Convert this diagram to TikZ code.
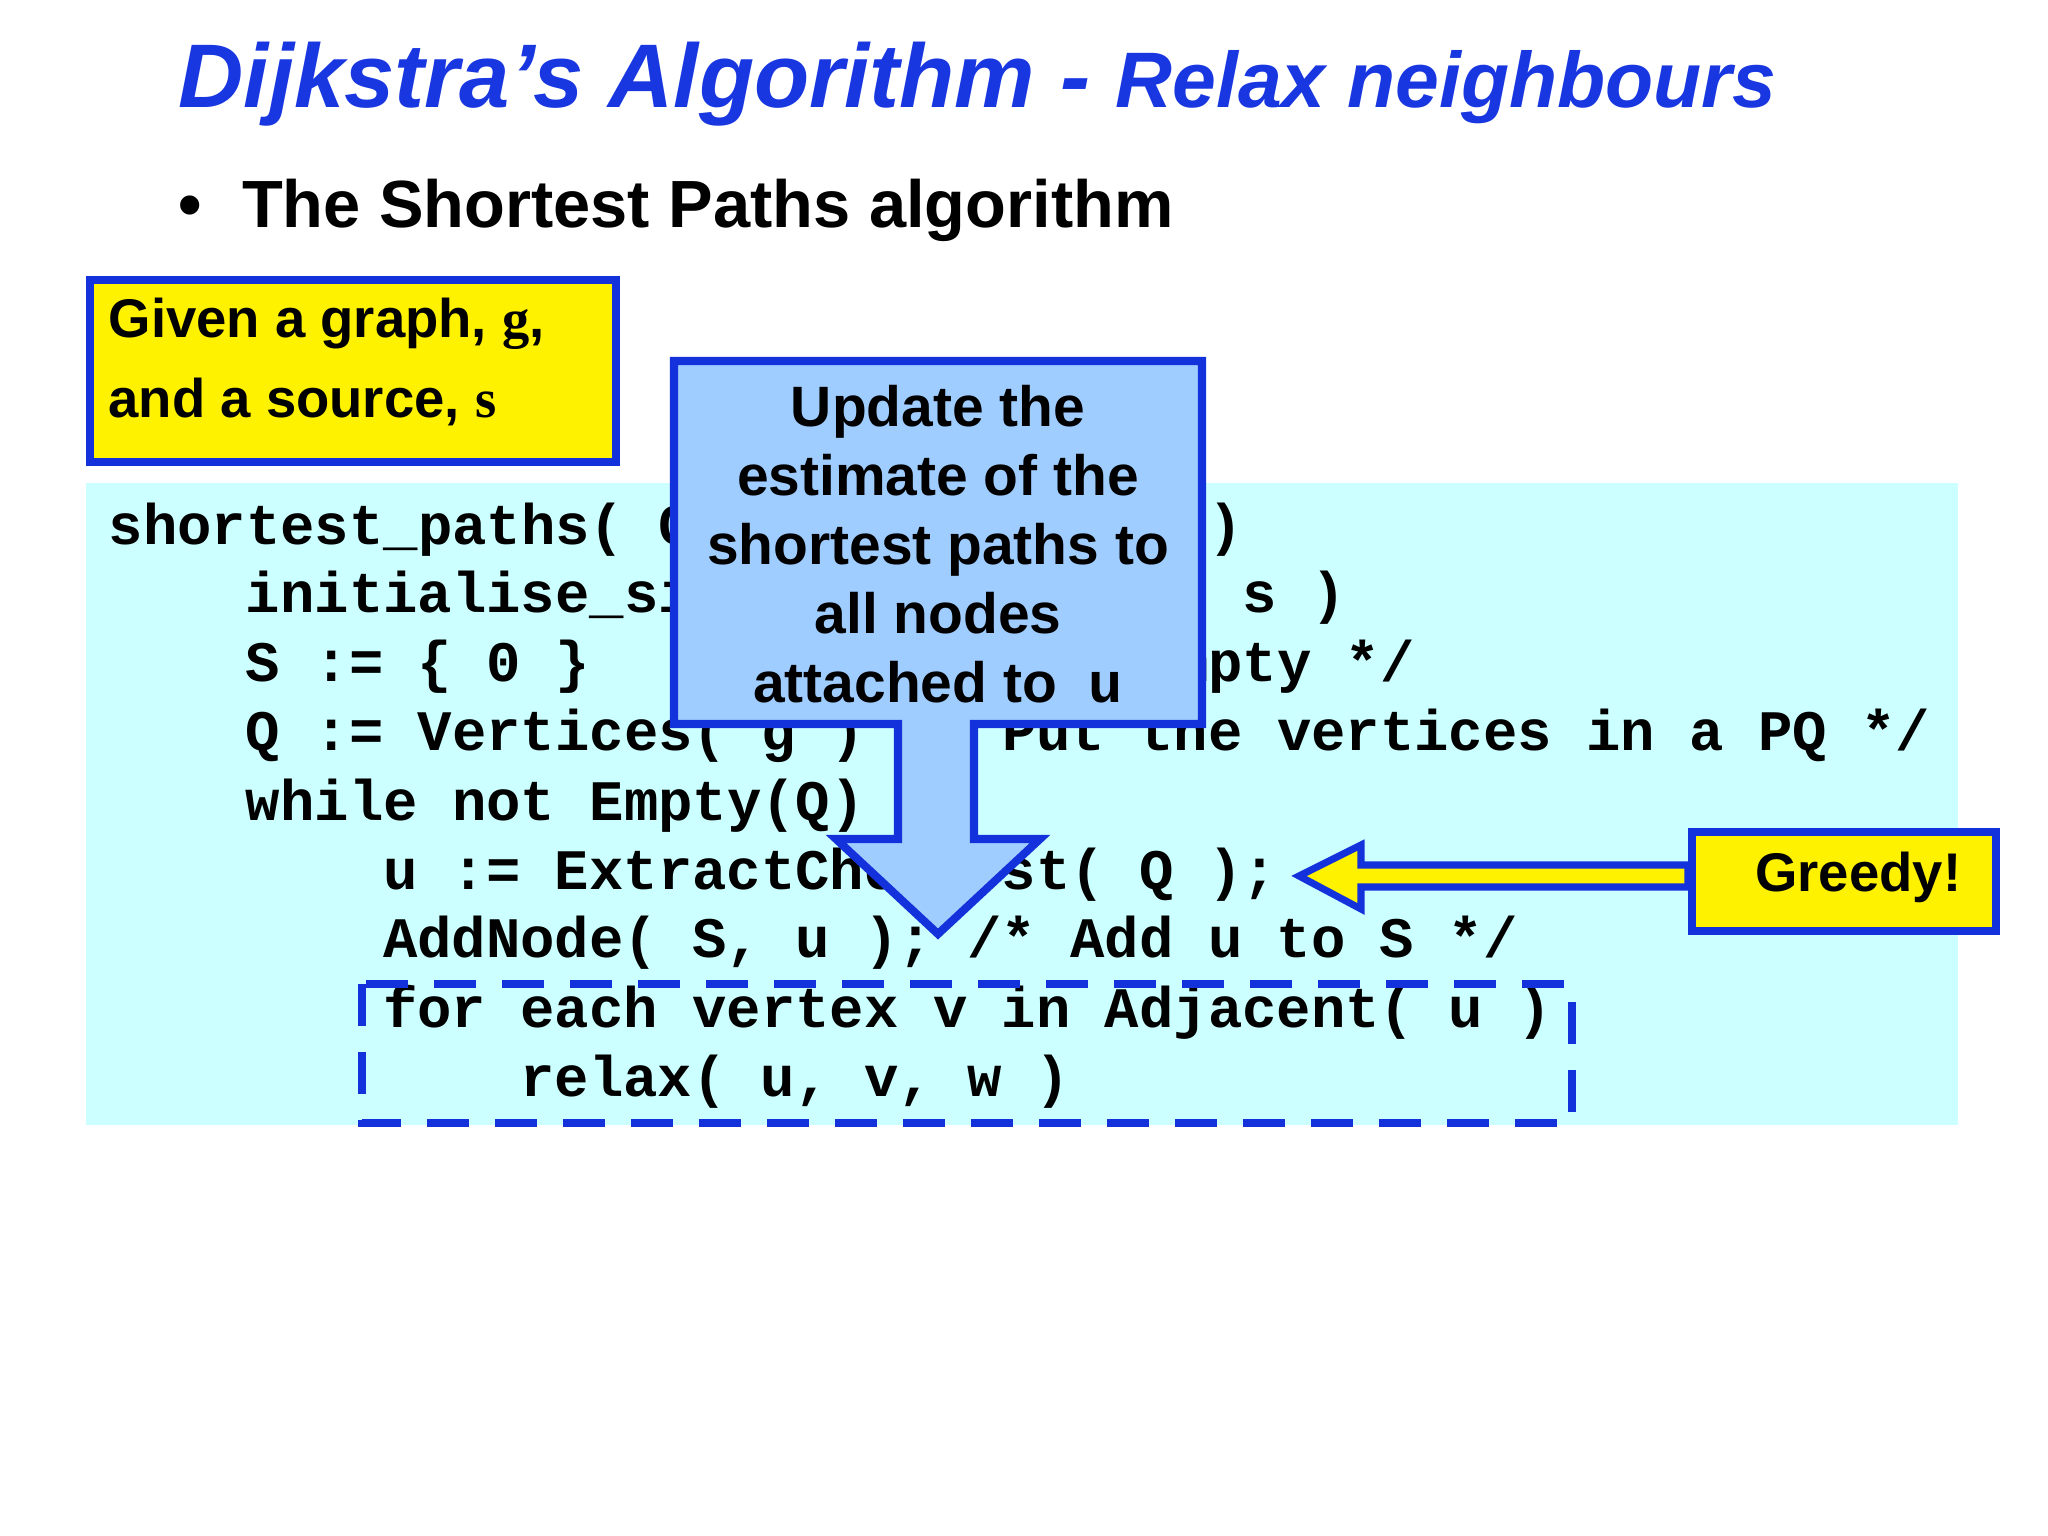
\documentclass[tikz,border=0pt]{standalone}
\usepackage{fontspec}
\setmainfont{Liberation Sans}
\newfontfamily\codefont{Liberation Mono}
\newfontfamily\serifb{Liberation Serif}
\definecolor{tblue}{RGB}{25,55,225}
\definecolor{bblue}{RGB}{20,50,220}
\definecolor{lcyan}{RGB}{204,255,255}
\definecolor{lblue}{RGB}{160,205,255}
\tikzset{
  codeline/.style={anchor=base west,inner sep=0pt,font=\codefont\fontsize{16.3}{20}\selectfont\bfseries},
  calloutbox/.style={draw=bblue,line width=2.3pt,fill=lblue},
  yellowbox/.style={draw=bblue,line width=2.3pt,fill=yellow},
}
\begin{document}
\begin{tikzpicture}[x=1cm,y=1cm]
\useasboundingbox[fill=white] (0,0) rectangle (20.48,-15.36);
% title
\node[anchor=base west,inner sep=0pt,text=tblue,font=\fontsize{25.7}{30}\selectfont\bfseries\itshape] (title) at (1.78,-1.08) {Dijkstra’s Algorithm - {\fontsize{22.4}{26}\selectfont Relax neighbours}};
\node[anchor=base west,inner sep=0pt,font=\fontsize{19}{23}\selectfont\bfseries] (bullet) at (1.78,-2.28) {\textbullet\hspace{0.6em}The Shortest Paths algorithm};
% yellow given box
\node[yellowbox,anchor=north west,minimum width=5.26cm,minimum height=1.82cm,inner sep=0pt] (given) at (0.86,-2.76) {};
\node[anchor=base west,inner sep=0pt,font=\fontsize{15.5}{19}\selectfont\bfseries] (g1) at (1.08,-3.38) {Given a graph, {\serifb g},};
\node[anchor=base west,inner sep=0pt,font=\fontsize{15.5}{19}\selectfont\bfseries] (g2) at (1.08,-4.18) {and a source, {\serifb s}};
% code area
\fill[lcyan] (0.86,-4.83) rectangle (19.58,-11.25);
\def\cw{0.343}
\node[codeline] (l1) at (1.08,-5.44) {shortest\_paths( Graph g, Node s )};
\node[codeline] (l2) at ({1.08+4*\cw},-6.13) {initialise\_single\_source( g, s )};
\node[codeline] (l3) at ({1.08+4*\cw},-6.82) {S := \{ 0 \}~~~~~~/* Make S empty */};
\node[codeline] (l4) at ({1.08+4*\cw},-7.51) {Q := Vertices( g ) /* Put the vertices in a PQ */};
\node[codeline] (l5) at ({1.08+4*\cw},-8.20) {while not Empty(Q)};
\node[codeline] (l6) at ({1.08+8*\cw},-8.89) {u := ExtractCheapest( Q );};
\node[codeline] (l7) at ({1.08+8*\cw},-9.58) {AddNode( S, u ); /* Add u to S */};
\node[codeline] (l8) at ({1.08+8*\cw},-10.27) {for each vertex v in Adjacent( u )};
\node[codeline] (l9) at ({1.08+12*\cw},-10.96) {relax( u, v, w )};
\draw[bblue,line width=2pt,dash pattern=on 0.42cm off 0.26cm] (3.62,-9.84) rectangle (15.72,-11.23);
% update callout
\draw[calloutbox,line join=miter] (6.74,-3.61) -- (12.02,-3.61) -- (12.02,-7.24) -- (9.74,-7.24) -- (9.74,-8.39) -- (10.40,-8.39) -- (9.38,-9.34) -- (8.36,-8.39) -- (8.98,-8.39) -- (8.98,-7.24) -- (6.74,-7.24) -- cycle;
\node[align=center,inner sep=0pt,font=\fontsize{16.2}{19.6}\selectfont\bfseries,anchor=north] (upd) at (9.38,-3.85) {Update the\\estimate of the\\shortest paths to\\all nodes\\attached to~~{\codefont u}};
% greedy
\node[yellowbox,anchor=north west,minimum width=3.04cm,minimum height=0.99cm,inner sep=0pt] (greedy) at (16.88,-8.28) {};
\node[anchor=east,inner sep=0pt,font=\fontsize{15.5}{19}\selectfont\bfseries] (gtext) at (19.62,-8.77) {Greedy!};
\coordinate (gtip) at (12.99,-8.76);
\draw[yellowbox,line width=2pt,line join=miter] (gtip) -- (13.61,-8.45) -- (13.61,-8.65) -- (16.88,-8.65) -- (16.88,-8.87) -- (13.61,-8.87) -- (13.61,-9.09) -- cycle;
\end{tikzpicture}
\end{document}
